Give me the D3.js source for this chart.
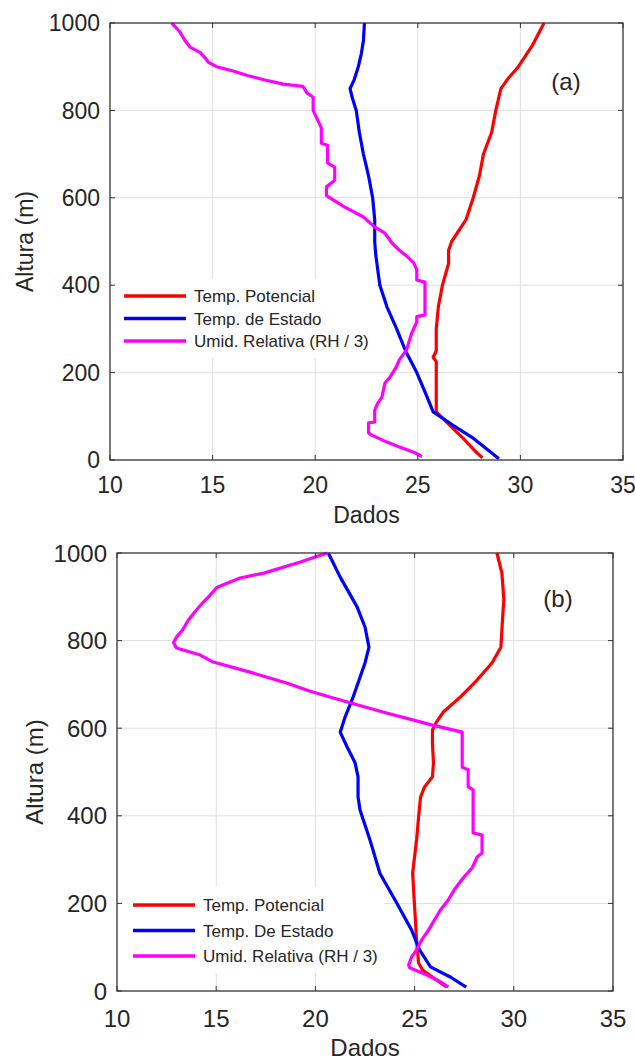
<!DOCTYPE html>
<html>
<head>
<meta charset="utf-8">
<script src="https://cdn.jsdelivr.net/npm/d3@7"></script>
<style>
  body { margin: 0; background: #fff; }
  text { font-family: "Liberation Sans", Arial, Helvetica, sans-serif; fill: #262626; }
</style>
</head>
<body>
<div id="chart"></div>
<script>
const W = 635;
const H = 1063;

const xTicks = [10, 15, 20, 25, 30, 35];
const yTicks = [0, 200, 400, 600, 800, 1000];

const namesA = ["Temp. Potencial", "Temp. de Estado", "Umid. Relativa (RH / 3)"];
const namesB = ["Temp. Potencial", "Temp. De Estado", "Umid. Relativa (RH / 3)"];
const colors = ["#ff0000", "#0000ff", "#ff00ff"];

// [valor, altura] pairs
const potA = [[31.15,1000],[30.6,950],[29.9,900],[29.35,870],[29.05,850],[28.8,800],[28.6,750],[28.2,700],[28.0,650],[27.7,600],[27.35,550],[26.65,500],[26.5,480],[26.5,450],[26.2,400],[26.0,350],[25.9,300],[25.9,250],[25.75,235],[25.9,225],[25.9,200],[25.9,150],[25.9,110],[26.55,80],[27.2,50],[27.8,20],[28.15,5]];
const estA = [[22.4,1000],[22.35,960],[22.25,930],[22.1,900],[21.9,870],[21.7,850],[21.8,830],[22.0,800],[22.15,750],[22.35,700],[22.6,650],[22.8,600],[22.9,550],[22.9,500],[22.95,470],[23.15,400],[23.5,350],[23.97,300],[24.4,250],[24.95,200],[25.4,150],[25.75,110],[26.7,80],[27.7,50],[28.5,20],[28.95,3]];
const umidA = [[13.0,1000],[13.4,980],[13.65,960],[13.9,945],[14.4,932],[14.6,922],[14.8,910],[15.2,900],[16.0,890],[16.7,880],[17.5,870],[18.45,860],[19.4,855],[19.6,840],[19.9,830],[19.9,800],[20.1,780],[20.3,760],[20.3,725],[20.6,720],[20.6,680],[20.95,670],[20.95,640],[20.55,625],[20.55,605],[21.4,580],[22.35,556],[22.9,533],[23.4,519],[23.75,496],[24.1,480],[24.5,465],[24.8,451],[24.95,435],[24.95,412],[25.35,407],[25.35,332],[24.95,328],[24.95,316],[24.7,290],[24.45,252],[24.1,229],[23.95,213],[23.65,190],[23.4,176],[23.25,144],[23.05,130],[22.9,114],[22.9,87],[22.6,85],[22.6,62],[22.75,57],[23.5,41],[24.1,30],[24.8,18],[25.2,8]];

const potB = [[29.15,1000],[29.4,954],[29.5,893],[29.45,863],[29.4,824],[29.35,785],[28.9,749],[28.15,710],[27.3,671],[26.45,637],[26.1,614],[25.9,596],[25.9,566],[25.95,521],[25.9,489],[25.5,466],[25.3,443],[25.2,397],[25.1,345],[24.9,269],[25.0,192],[25.1,116],[25.2,64],[25.4,48],[25.9,32],[26.6,9]];
const estB = [[20.65,1000],[21.25,945],[22.1,877],[22.5,831],[22.7,785],[22.5,749],[21.9,671],[21.5,626],[21.25,591],[21.6,557],[22.0,521],[22.15,489],[22.15,443],[22.25,413],[22.75,345],[23.25,269],[24.1,201],[24.85,139],[25.25,94],[25.8,55],[26.8,32],[27.6,9]];
const umidB = [[20.6,1000],[19.2,979],[17.4,954],[16.2,943],[15.05,922],[14.7,904],[14.35,888],[14.0,870],[13.6,847],[13.3,824],[13.0,808],[12.85,795],[13.0,783],[14.2,767],[14.85,751],[16.7,728],[18.55,703],[19.7,685],[20.9,669],[23.4,637],[25.9,607],[27.4,591],[27.4,511],[27.7,505],[27.7,466],[27.95,459],[27.95,361],[28.4,356],[28.4,315],[28.15,306],[27.9,281],[27.45,258],[27.0,231],[26.7,208],[26.3,185],[26.0,162],[25.7,139],[25.35,116],[25.1,94],[24.85,78],[24.7,59],[24.75,53],[25.6,37],[26.3,21],[26.7,9]];

const svg = d3.select("#chart").append("svg")
  .attr("width", W)
  .attr("height", H);

function drawPanel(p) {
  const x = d3.scaleLinear().domain([10, 35]).range([p.left, p.right]);
  const y = d3.scaleLinear().domain([0, 1000]).range([p.bottom, p.top]);
  const g = svg.append("g");

  // grid
  g.selectAll(".gx").data(xTicks.slice(1, -1)).enter().append("line")
    .attr("x1", d => x(d)).attr("x2", d => x(d))
    .attr("y1", p.top).attr("y2", p.bottom)
    .attr("stroke", "#dfdfdf").attr("stroke-width", 1);
  g.selectAll(".gy").data(yTicks.slice(1, -1)).enter().append("line")
    .attr("x1", p.left).attr("x2", p.right)
    .attr("y1", d => y(d)).attr("y2", d => y(d))
    .attr("stroke", "#dfdfdf").attr("stroke-width", 1);

  // legend background sits under the curves but over the grid
  const lg = p.legend;
  g.append("rect")
    .attr("x", lg.x).attr("y", lg.y)
    .attr("width", lg.w).attr("height", lg.h)
    .attr("fill", "#fff");

  // curves
  const line = d3.line().x(d => x(d[0])).y(d => y(d[1]));
  p.series.forEach((s, i) => {
    g.append("path").datum(s)
      .attr("d", line)
      .attr("fill", "none")
      .attr("stroke", colors[i])
      .attr("stroke-width", 3.2)
      .attr("stroke-linejoin", "round");
  });

  // box + inward ticks (matlab style)
  g.append("rect")
    .attr("x", p.left).attr("y", p.top)
    .attr("width", p.right - p.left).attr("height", p.bottom - p.top)
    .attr("fill", "none").attr("stroke", "#333").attr("stroke-width", 1.3);

  const tl = 5;
  xTicks.forEach(t => {
    g.append("line").attr("x1", x(t)).attr("x2", x(t)).attr("y1", p.bottom).attr("y2", p.bottom - tl).attr("stroke", "#333");
    g.append("line").attr("x1", x(t)).attr("x2", x(t)).attr("y1", p.top).attr("y2", p.top + tl).attr("stroke", "#333");
  });
  yTicks.forEach(t => {
    g.append("line").attr("x1", p.left).attr("x2", p.left + tl).attr("y1", y(t)).attr("y2", y(t)).attr("stroke", "#333");
    g.append("line").attr("x1", p.right).attr("x2", p.right - tl).attr("y1", y(t)).attr("y2", y(t)).attr("stroke", "#333");
  });

  // tick labels
  g.selectAll(".xl").data(xTicks).enter().append("text")
    .attr("x", d => x(d)).attr("y", p.bottom + p.xLabOff)
    .attr("text-anchor", "middle")
    .style("font-size", p.fs + "px")
    .text(d => d);
  g.selectAll(".yl").data(yTicks).enter().append("text")
    .attr("x", p.left - 10).attr("y", d => y(d))
    .attr("dy", "0.36em")
    .attr("text-anchor", "end")
    .style("font-size", p.fs + "px")
    .text(d => d);

  // axis titles
  g.append("text")
    .attr("x", (p.left + p.right) / 2).attr("y", p.bottom + p.titleOff)
    .attr("text-anchor", "middle")
    .style("font-size", p.fs + "px")
    .text("Dados");
  g.append("text")
    .attr("transform", `translate(${p.yTitleX},${(p.top + p.bottom) / 2}) rotate(-90)`)
    .attr("text-anchor", "middle")
    .style("font-size", p.fs + "px")
    .text("Altura (m)");

  // panel tag
  g.append("text")
    .attr("x", p.tag.x).attr("y", p.tag.y)
    .attr("text-anchor", "middle")
    .style("font-size", "24px")
    .text(p.tag.t);

  // legend entries
  p.names.forEach((n, i) => {
    const ly = lg.y + lg.first + i * lg.step;
    g.append("line")
      .attr("x1", lg.x + lg.pad).attr("x2", lg.x + lg.pad + 62)
      .attr("y1", ly).attr("y2", ly)
      .attr("stroke", colors[i]).attr("stroke-width", 3.5);
    g.append("text")
      .attr("x", lg.x + lg.pad + 70).attr("y", ly)
      .attr("dy", "0.36em")
      .style("font-size", "17px")
      .text(n);
  });
}

drawPanel({
  left: 110, right: 623, top: 23, bottom: 460,
  series: [potA, estA, umidA], names: namesA,
  fs: 23, xLabOff: 33, titleOff: 63, yTitleX: 33,
  tag: { t: "(a)", x: 566, y: 90 },
  legend: { x: 112, y: 279, w: 264, h: 79, pad: 12, first: 17, step: 22.5 }
});

drawPanel({
  left: 117, right: 613, top: 553, bottom: 991,
  series: [potB, estB, umidB], names: namesB,
  fs: 24, xLabOff: 36, titleOff: 65, yTitleX: 43,
  tag: { t: "(b)", x: 558, y: 607 },
  legend: { x: 120, y: 887, w: 264, h: 86, pad: 13, first: 18, step: 25.5 }
});
</script>
</body>
</html>
